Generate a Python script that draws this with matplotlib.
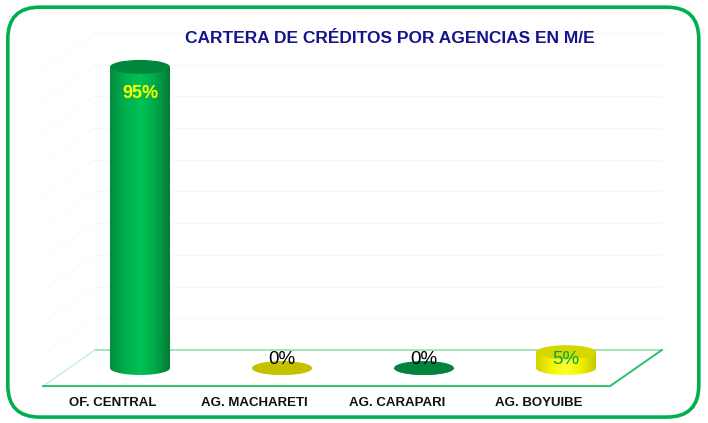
import numpy as np
import matplotlib
matplotlib.use('Agg')
import matplotlib.pyplot as plt
from matplotlib.patches import Ellipse, Polygon, FancyBboxPatch
from matplotlib.colors import LinearSegmentedColormap

plt.rcParams['font.family'] = ['Liberation Sans', 'DejaVu Sans']

# data
categories = ['OF. CENTRAL', 'AG. MACHARETI', 'AG. CARAPARI', 'AG. BOYUIBE']
values = [95, 0, 0, 5]
value_labels = ['95%', '0%', '0%', '5%']
label_colors = ['#FFFF00', '#000000', '#000000', '#00A84C']
body_colors = [
    ['#008E3E', '#00AE4E', '#00C254', '#00A94A', '#007A35'],
    ['#A9A900', '#C4C400', '#D0D000', '#BEBE00', '#9A9A00'],
    ['#006F33', '#00853D', '#009243', '#00823B', '#00672F'],
    ['#D2D200', '#F4F400', '#FFFF33', '#F0F000', '#C8C800'],
]
top_colors = ['#00873D', '#C4C200', '#00843C', '#D6D600']

fig = plt.figure(figsize=(7.08, 4.23), dpi=100)
ax = fig.add_axes([0, 0, 1, 1])
ax.set_xlim(-0.986, 4.0)
ax.set_ylim(-17.35, 116.1)
ax.axis('off')

# frame
fig.patches.append(FancyBboxPatch((0.011, 0.014), 0.976, 0.969,
                                  boxstyle='round,pad=0,rounding_size=0.045',
                                  transform=fig.transFigure, fill=False,
                                  edgecolor='#00B050', linewidth=2.6,
                                  mutation_aspect=708 / 423))

# 3d floor / walls
depth_x, depth_y = 0.3655, 5.7
bx0, bx1 = -0.317, 3.676
ax.add_patch(Polygon([(bx0, depth_y), (bx1, depth_y), (bx1 - depth_x, -depth_y),
                      (bx0 - depth_x, -depth_y)], closed=True,
                     facecolor='white', edgecolor='none', zorder=1))
for g in range(10, 101, 10):
    ax.plot([bx0, bx1], [g + depth_y, g + depth_y], color='#F8F8F8', lw=0.8, zorder=1)
    ax.plot([bx0, bx0 - depth_x], [g + depth_y, g - depth_y], color='#EEF5F0',
            lw=0.8, ls=':', zorder=1)
ax.plot([bx0, bx1], [depth_y, depth_y], color='#8FE0B0', lw=1.2, zorder=2)
ax.plot([bx0, bx0 - depth_x], [depth_y, -depth_y], color='#C5EFD5', lw=1.0, zorder=2)
ax.plot([bx0 - depth_x, bx1 - depth_x, bx1], [-depth_y, -depth_y, depth_y],
        color='#2CC06A', lw=1.4, zorder=2)

# cylinders
w = 0.4225
eh = 4.4
t = np.linspace(np.pi, 2 * np.pi, 60)
for i, v in enumerate(values):
    xl, xr = i - w / 2, i + w / 2
    pts = [(xl, v)] + [(i + w / 2 * np.cos(a), eh / 2 * np.sin(a)) for a in t] + [(xr, v)]
    body = Polygon(pts, closed=True, facecolor='none', edgecolor='none')
    ax.add_patch(body)
    cmap = LinearSegmentedColormap.from_list('c%d' % i, body_colors[i])
    grad = np.linspace(0, 1, 200).reshape(1, -1)
    im = ax.imshow(grad, cmap=cmap, extent=(xl, xr, -eh / 2, v + 0.01),
                   aspect='auto', zorder=3, interpolation='bilinear')
    im.set_clip_path(body)
    ax.add_patch(Ellipse((i, v), w, eh, facecolor=top_colors[i], edgecolor='none',
                         zorder=4))
    if v > 50:
        ax.text(i, v - 8.3, value_labels[i], color=label_colors[i], fontsize=13,
                fontweight='bold', ha='center', va='center', zorder=5)
    else:
        ax.text(i, 2.8, value_labels[i], color=label_colors[i], fontsize=13.5,
                ha='center', va='center', zorder=5)
    ax.text(i - depth_x / 2 - 0.01, -10.9, categories[i], fontsize=9.5, fontweight='bold',
            ha='center', va='center', color='#111111', zorder=5)

ax.set_xlim(-0.986, 4.0)
ax.set_ylim(-17.35, 116.1)

fig.text(0.551, 0.91, 'CARTERA DE CRÉDITOS POR AGENCIAS EN M/E', fontsize=12.5,
         fontweight='bold', color='#14148C', ha='center', va='center')

fig.savefig('out.png', dpi=100)
